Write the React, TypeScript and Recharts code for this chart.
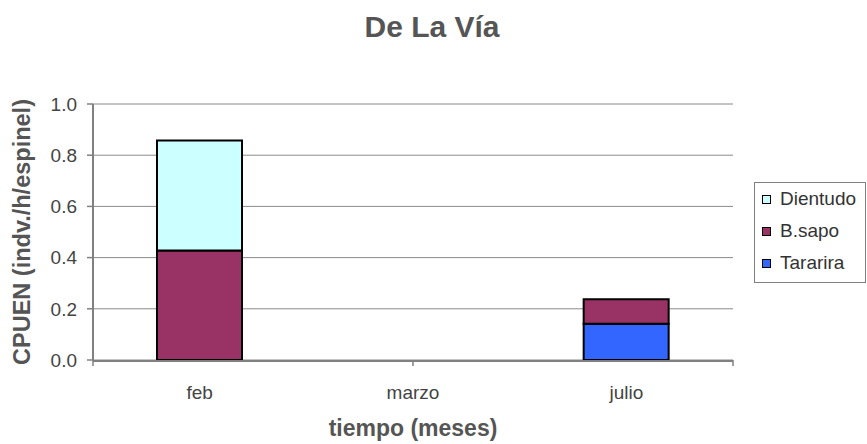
import React from 'react';
import { BarChart, Bar, XAxis, YAxis, CartesianGrid, Legend, ReferenceLine, Label } from 'recharts';

const categories = ['feb', 'marzo', 'julio'];
const tararira = [0, 0, 0.142];
const bSapo = [0.428, 0, 0.095];
const dientudo = [0.429, 0, 0];
const yTicks = [0, 0.2, 0.4, 0.6, 0.8, 1.0];

const chartTitle = 'De La Vía';
const xTitle = 'tiempo (meses)';
const yTitle = 'CPUEN (indv./h/espinel)';

const series = [
  { key: 'tararira', name: 'Tararira', values: tararira, color: '#3366FF' },
  { key: 'bsapo', name: 'B.sapo', values: bSapo, color: '#993366' },
  { key: 'dientudo', name: 'Dientudo', values: dientudo, color: '#CCFFFF' },
];

const data = categories.map((c, i) => {
  const row: any = { cat: c };
  series.forEach((s) => { row[s.key] = s.values[i]; });
  return row;
});

const edgeTicks = [...categories.map((_, i) => i), categories.length];

const FONT = '"Liberation Sans", Arial, sans-serif';
const GRID = '#8a8a8a';
const AXIS = '#808080';
const TEXT = '#444444';

const LegendBox = () => (
  <div
    style={{
      boxSizing: 'border-box',
      width: 112,
      height: 101,
      border: '1px solid #808080',
      background: '#fff',
      fontFamily: FONT,
      fontSize: 19,
      color: '#333',
    }}
  >
    {[...series].reverse().map((s) => (
      <div key={s.key} style={{ height: 32, display: 'flex', alignItems: 'center', paddingLeft: 7 }}>
        <span
          style={{
            display: 'inline-block',
            width: 9,
            height: 9,
            boxSizing: 'border-box',
            border: '1.5px solid #000',
            background: s.color,
            marginRight: 9,
          }}
        />
        <span>{s.name}</span>
      </div>
    ))}
  </div>
);

export default function App() {
  return (
    <div style={{ position: 'absolute', left: 0, top: 0, width: 867, height: 444, background: '#fff' }}>
      <svg width={867} height={60} style={{ position: 'absolute', left: 0, top: 0 }}>
        <text x={432} y={37} textAnchor="middle" fontFamily={FONT} fontWeight="bold" fontSize={30} fill="#555">
          {chartTitle}
        </text>
      </svg>
      <div style={{ position: 'absolute', left: 0, top: 0 }}>
        <BarChart
          width={867}
          height={444}
          data={data}
          margin={{ top: 104, right: 134, bottom: 0, left: 33 }}
          barCategoryGap="30%"
        >
          <CartesianGrid xAxisId="cat" vertical={false} stroke={GRID} strokeWidth={1} />
          <XAxis
            xAxisId="cat"
            dataKey="cat"
            height={83}
            tickLine={false}
            tickSize={0}
            tickMargin={25}
            axisLine={{ stroke: AXIS, strokeWidth: 2 }}
            tick={{ fill: TEXT, fontSize: 19, fontFamily: FONT }}
            interval={0}
          >
            <Label
              content={(props: any) => {
                const vb = props.viewBox || {};
                return (
                  <text
                    x={vb.x + vb.width / 2}
                    y={vb.y + 75}
                    textAnchor="middle"
                    fontFamily={FONT}
                    fontWeight="bold"
                    fontSize={23}
                    fill="#555"
                  >
                    {xTitle}
                  </text>
                );
              }}
            />
          </XAxis>
          <XAxis
            xAxisId="a"
            type="number"
            domain={[0, categories.length]}
            ticks={edgeTicks}
            interval={0}
            tick={{ fill: 'none', fontSize: 1 }}
            tickFormatter={() => ''}
            axisLine={false}
            tickSize={6}
            tickLine={{ stroke: AXIS, strokeWidth: 1.5 }}
            height={1}
          />
          <YAxis
            width={60}
            domain={[0, 1]}
            ticks={yTicks}
            interval={0}
            tickFormatter={(v: number) => v.toFixed(1)}
            tickSize={6}
            tickMargin={10}
            tickLine={{ stroke: AXIS, strokeWidth: 1.5 }}
            axisLine={{ stroke: AXIS, strokeWidth: 2 }}
            tick={{ fill: TEXT, fontSize: 19, fontFamily: FONT }}
          >
            <Label
              content={(props: any) => {
                const vb = props.viewBox || {};
                const x = vb.x - 3;
                const y = vb.y + vb.height / 2;
                return (
                  <text
                    x={x}
                    y={y}
                    transform={`rotate(-90 ${x} ${y})`}
                    textAnchor="middle"
                    fontFamily={FONT}
                    fontWeight="bold"
                    fontSize={23.5}
                    fill="#555"
                  >
                    {yTitle}
                  </text>
                );
              }}
            />
          </YAxis>
          <ReferenceLine xAxisId="a" x={categories.length} stroke={AXIS} strokeWidth={1.5} />
          {series.map((s) => (
            <Bar
              key={s.key}
              xAxisId="cat"
              dataKey={s.key}
              name={s.name}
              stackId="a"
              fill={s.color}
              stroke="#000"
              strokeWidth={2}
              isAnimationActive={false}
            />
          ))}
          <Legend
            layout="vertical"
            align="center"
            verticalAlign="middle"
            content={() => <LegendBox />}
            wrapperStyle={{ left: 754, top: 182, width: 112, height: 101 }}
          />
        </BarChart>
      </div>
    </div>
  );
}
